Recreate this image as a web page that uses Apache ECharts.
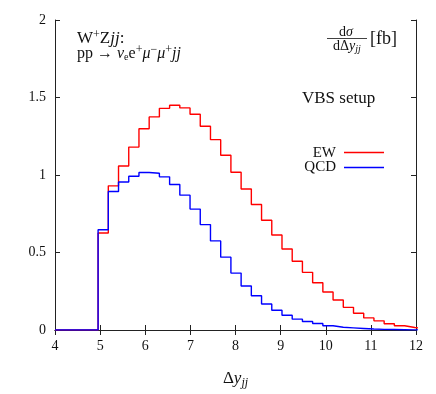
<!DOCTYPE html>
<html>
<head>
<meta charset="utf-8">
<script src="https://cdn.jsdelivr.net/npm/echarts@6/dist/echarts.min.js"></script>
<style>html,body{margin:0;padding:0;background:#fff}#c{width:436px;height:394px}</style>
</head>
<body>
<div id="c"></div>
<script>
// Histogram bins in Δy_jj
var binStart = 4.955;
var binWidth = 0.2264;
var xTicks = [4, 5, 6, 7, 8, 9, 10, 11, 12];
var yTicks = [0, 0.5, 1, 1.5, 2];
var ewValues = [0.626, 0.93, 1.058, 1.18, 1.298, 1.375, 1.43, 1.45, 1.433, 1.392, 1.315, 1.228, 1.127, 1.018, 0.910, 0.81,
                0.708, 0.613, 0.523, 0.444, 0.372, 0.305, 0.245, 0.194, 0.146, 0.108, 0.078, 0.059, 0.040, 0.027, 0.016, 0.008];
var qcdValues = [0.647, 0.894, 0.955, 0.992, 1.016, 1.011, 0.988, 0.939, 0.870, 0.780, 0.680, 0.575, 0.470, 0.367, 0.284, 0.221,
                 0.168, 0.127, 0.095, 0.070, 0.055, 0.042, 0.027, 0.018, 0.014, 0.010, 0.006, 0.004, 0.003, 0.002, 0.001, 0.001];

function steps(vals) {
  var pts = [[xTicks[0], 0], [binStart, 0]];
  for (var i = 0; i < vals.length; i++) {
    var a = binStart + i * binWidth, b = a + binWidth;
    pts.push([a, vals[i]]);
    pts.push([b, vals[i]]);
  }
  return pts;
}

var FONT = 'Liberation Serif';
var chart = echarts.init(document.getElementById('c'), null, {renderer: 'canvas'});
var axisLine = {show: true, lineStyle: {color: '#222', width: 1}};
var tick = {show: true, inside: true, length: 5, lineStyle: {color: '#222'}};
chart.setOption({
  animation: false,
  backgroundColor: '#fff',
  textStyle: {fontFamily: FONT},
  grid: {left: 55, right: 20, top: 20, bottom: 62, containLabel: false},
  xAxis: [{
    type: 'value', min: 4, max: 12, interval: 1,
    axisLine: axisLine, axisTick: tick, splitLine: {show: false},
    axisLabel: {color: '#111', fontFamily: FONT, fontSize: 14, margin: 9},
    name: '{n|Δ}{i|y}{s|jj}', nameLocation: 'middle', nameGap: 38,
    nameTextStyle: {fontFamily: FONT, rich: {
      n: {fontFamily: FONT, fontSize: 17, color: '#111'},
      i: {fontFamily: FONT, fontSize: 17, fontStyle: 'italic', color: '#111'},
      s: {fontFamily: FONT, fontSize: 12, fontStyle: 'italic', color: '#111', padding: [9, 0, 0, 0]}
    }}
  }, {
    type: 'value', min: 4, max: 12, interval: 1, position: 'top',
    axisLine: axisLine, axisTick: tick, axisLabel: {show: false}, splitLine: {show: false}
  }],
  yAxis: [{
    type: 'value', min: 0, max: 2, interval: 0.5,
    axisLine: axisLine, axisTick: tick, splitLine: {show: false},
    axisLabel: {color: '#111', fontFamily: FONT, fontSize: 14, margin: 9}
  }, {
    type: 'value', min: 0, max: 2, interval: 0.5, position: 'right',
    axisLine: axisLine, axisTick: tick, axisLabel: {show: false}, splitLine: {show: false}
  }],
  series: [{
    name: 'EW', type: 'line', data: steps(ewValues), showSymbol: false, symbol: 'none',
    lineStyle: {color: '#ff0000', width: 1.4}, itemStyle: {color: '#ff0000'}, z: 2
  }, {
    name: 'QCD', type: 'line', data: steps(qcdValues), showSymbol: false, symbol: 'none',
    lineStyle: {color: '#0000ff', width: 1.4}, itemStyle: {color: '#0000ff'}, z: 3
  }],
  graphic: [
    {type: 'text', x: 77, y: 39, style: {
      text: 'W{sup|+}Z{it|jj}:', fill: '#111', font: '17px "Liberation Serif"', verticalAlign: 'middle',
      rich: {sup: {fontSize: 12, fontFamily: FONT, padding: [0, 0, 9, 0]}, it: {fontSize: 17, fontStyle: 'italic', fontFamily: FONT}}
    }},
    {type: 'text', x: 77, y: 54, style: {
      text: '{r|pp} {ar|→} {it|ν}{sub|e}{r|e}{sup|+}{it|μ}{sup|−}{it|μ}{sup|+}{it|jj}', fill: '#111', font: '16px "Liberation Serif"', verticalAlign: 'middle',
      rich: {r: {fontSize: 16, fontFamily: FONT}, ar: {fontSize: 16, fontFamily: FONT}, sup: {fontSize: 12, fontFamily: FONT, padding: [0, 0, 8, 0]}, sub: {fontSize: 10, fontFamily: FONT, padding: [6, 0, 0, 0]},
             it: {fontSize: 16, fontStyle: 'italic', fontFamily: FONT}}
    }},
    {type: 'text', x: 346, y: 32, style: {text: 'd{it|σ}', fill: '#111', font: '14px "Liberation Serif"', align: 'center', verticalAlign: 'middle',
      rich: {it: {fontSize: 14, fontStyle: 'italic', fontFamily: FONT}}}},
    {type: 'line', shape: {x1: 327, y1: 38.5, x2: 367, y2: 38.5}, style: {stroke: '#111', lineWidth: 0.8}},
    {type: 'text', x: 347, y: 46, style: {text: 'dΔ{it|y}{sub|jj}', fill: '#111', font: '14px "Liberation Serif"', align: 'center', verticalAlign: 'middle',
      rich: {it: {fontSize: 14, fontStyle: 'italic', fontFamily: FONT}, sub: {fontSize: 10, fontStyle: 'italic', fontFamily: FONT, padding: [6, 0, 0, 0]}}}},
    {type: 'text', x: 370, y: 39, style: {text: '[fb]', fill: '#111', font: '18px "Liberation Serif"', verticalAlign: 'middle'}},
    {type: 'text', x: 302, y: 99, style: {text: 'VBS setup', fill: '#111', font: '17px "Liberation Serif"', verticalAlign: 'middle'}},
    {type: 'text', x: 336, y: 153, style: {text: 'EW', fill: '#111', font: '15px "Liberation Serif"', align: 'right', verticalAlign: 'middle'}},
    {type: 'line', shape: {x1: 344, y1: 152.5, x2: 384, y2: 152.5}, style: {stroke: '#ff0000', lineWidth: 1.4}},
    {type: 'text', x: 336, y: 167, style: {text: 'QCD', fill: '#111', font: '15px "Liberation Serif"', align: 'right', verticalAlign: 'middle'}},
    {type: 'line', shape: {x1: 344, y1: 167.5, x2: 384, y2: 167.5}, style: {stroke: '#0000ff', lineWidth: 1.4}}
  ]
});
</script>
</body>
</html>
